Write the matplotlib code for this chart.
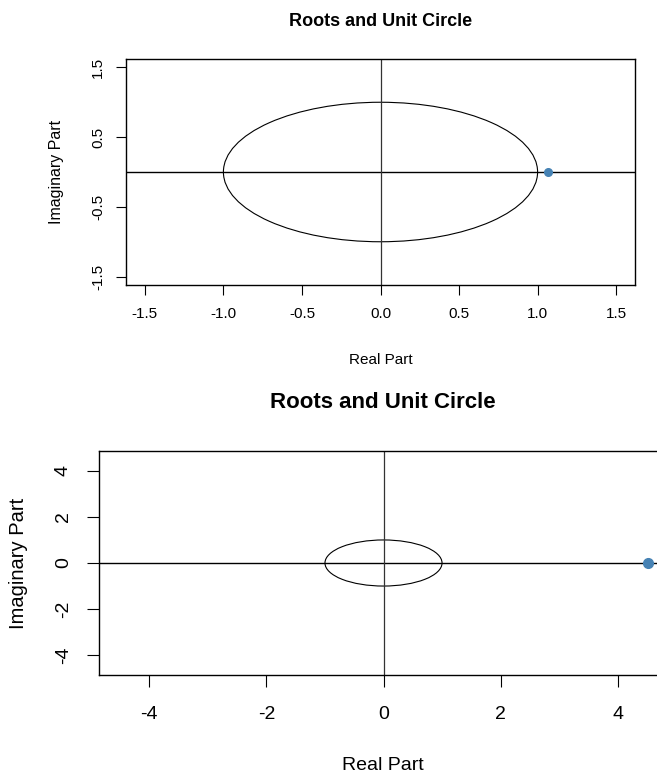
import matplotlib.pyplot as plt
from matplotlib.patches import Circle

plt.rcParams['font.family'] = ['Liberation Sans', 'DejaVu Sans']
plt.rcParams['axes.unicode_minus'] = False

# --- Data ---
title = "Roots and Unit Circle"
unit_radius = 1.0

# top panel: root close to the unit circle
top_root_re = [1.065]
top_root_im = [0.0]
top_ticks = [-1.5, -1.0, -0.5, 0.0, 0.5, 1.0, 1.5]
top_ytick_vals = [-1.5, -0.5, 0.5, 1.5]
top_lim = 1.62

# bottom panel: root far outside
bot_root_re = [4.51]
bot_root_im = [0.0]
bot_ticks = [-4, -2, 0, 2, 4]
bot_lim = 4.86

W, H = 657, 776
fig = plt.figure(figsize=(W / 100, H / 100), dpi=100)


def px_axes(left, right, top, bottom):
    return fig.add_axes([left / W, 1 - bottom / H, (right - left) / W, (bottom - top) / H])


def draw_panel(ax, re, im, lim, xt, yt, fs, tick_len, xpad, ypad, msize, fmt):
    ax.set_xlim(-lim, lim)
    ax.set_ylim(-lim, lim)
    ax.add_patch(Circle((0, 0), unit_radius, fill=False, edgecolor='black', linewidth=0.8))
    ax.axhline(0, color='black', linewidth=1.0)
    ax.axvline(0, color='#333333', linewidth=0.9)
    ax.plot(re, im, 'o', color='#4682B4', markersize=msize, zorder=5)
    ax.set_xticks(xt)
    ax.set_xticklabels([fmt(v) for v in xt])
    ax.set_yticks(yt)
    ax.set_yticklabels([fmt(v) for v in yt], rotation=90, va='center')
    for s in ax.spines.values():
        s.set_linewidth(1.0)
    ax.tick_params(axis='both', direction='out', length=tick_len, width=0.8, labelsize=fs)
    ax.tick_params(axis='x', pad=xpad)
    ax.tick_params(axis='y', pad=ypad)


# top panel
ax1 = px_axes(126, 635, 59, 285)
draw_panel(ax1, top_root_re, top_root_im, top_lim, top_ticks, top_ytick_vals,
           11, 7, 9, 8, 5.5, lambda v: f"{v:.1f}")
fig.text(380.5 / W, 1 - 22 / H, title, ha='center', va='center', fontsize=13, fontweight='bold')
fig.text(380.5 / W, 1 - 360 / H, "Real Part", ha='center', va='center', fontsize=11)
fig.text(57 / W, 1 - 172 / H, "Imaginary Part", ha='center', va='center', fontsize=11.5, rotation=90)

# bottom panel
ax2 = px_axes(99, 668, 451, 675)
draw_panel(ax2, bot_root_re, bot_root_im, bot_lim, bot_ticks, bot_ticks,
           14, 8.5, 14, 11, 7, lambda v: f"{v:d}")
fig.text(382.6 / W, 1 - 402 / H, title, ha='center', va='center', fontsize=16, fontweight='bold')
fig.text(382.6 / W, 1 - 766 / H, "Real Part", ha='center', va='center', fontsize=14)
fig.text(19 / W, 1 - 563 / H, "Imaginary Part", ha='center', va='center', fontsize=14.5, rotation=90)

fig.savefig('out.png', dpi=100)
